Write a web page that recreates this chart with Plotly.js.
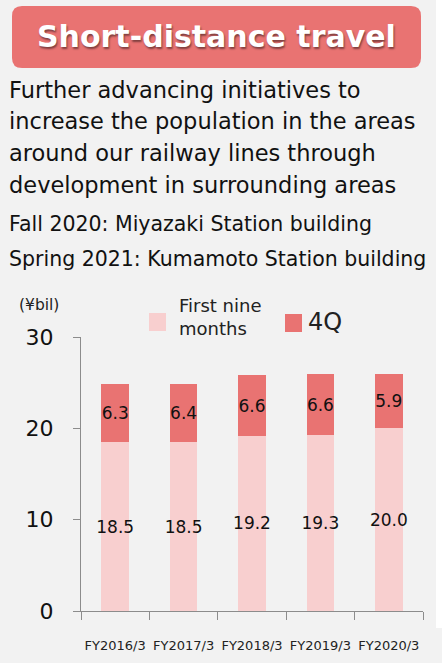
<!DOCTYPE html>
<html>
<head>
<meta charset="utf-8">
<script src="https://cdn.plot.ly/plotly-3.0.1.min.js"></script>
<style>html,body{margin:0;padding:0;background:#f2f2f2;}</style>
</head>
<body>
<div id="myDiv" style="width:442px;height:663px;"></div>
<script>
// data
var years = ['FY2016/3', 'FY2017/3', 'FY2018/3', 'FY2019/3', 'FY2020/3'];
var firstNine = [18.5, 18.5, 19.2, 19.3, 20.0];
var fourthQ = [6.3, 6.4, 6.6, 6.6, 5.9];
var seriesNames = ['First nine<br>months', '4Q'];
var headline = 'Short-distance travel';
var bodyLines = [
  'Further advancing initiatives to',
  'increase the population in the areas',
  'around our railway lines through',
  'development in surrounding areas'
];
var notes = [
  'Fall 2020: Miyazaki Station building',
  'Spring 2021: Kumamoto Station building'
];
var unitLabel = '(¥bil)';

var pink = '#f8cfcf', red = '#e97372', axisGray = '#8c8c8c';
var font = 'DejaVu Sans, Verdana, sans-serif';

// page size and plot margins, pixels -> paper coords
var W = 442, H = 663, L = 81, R = 19, T = 337, B = 52;
function px(X) { return (X - L) / (W - L - R); }
function py(Y) { return (H - B - Y) / (H - T - B); }

function roundRect(x0, y0, x1, y1, r) {
  var p = function (x, y) { return px(x) + ',' + py(y); };
  return 'M' + p(x0 + r, y0) + ' L' + p(x1 - r, y0) + ' Q' + p(x1, y0) + ' ' + p(x1, y0 + r) +
    ' L' + p(x1, y1 - r) + ' Q' + p(x1, y1) + ' ' + p(x1 - r, y1) +
    ' L' + p(x0 + r, y1) + ' Q' + p(x0, y1) + ' ' + p(x0, y1 - r) +
    ' L' + p(x0, y0 + r) + ' Q' + p(x0, y0) + ' ' + p(x0 + r, y0) + ' Z';
}

var trace1 = {
  x: years,
  y: firstNine,
  name: seriesNames[0],
  type: 'bar',
  marker: { color: pink },
  text: firstNine.map(function (v) { return v.toFixed(1); }),
  textposition: 'inside',
  insidetextanchor: 'middle',
  textangle: 0,
  constraintext: 'none',
  textfont: { family: font, size: 17, color: '#111' },
  hoverinfo: 'none'
};

var trace2 = {
  x: years,
  y: fourthQ,
  name: seriesNames[1],
  type: 'bar',
  marker: { color: red },
  text: fourthQ.map(function (v) { return v.toFixed(1); }),
  textposition: 'inside',
  insidetextanchor: 'middle',
  textangle: 0,
  constraintext: 'none',
  textfont: { family: font, size: 17, color: '#111' },
  hoverinfo: 'none'
};

var data = [trace1, trace2];

var ann = [];
ann.push({
  text: '<b>' + headline + '</b>', x: px(216.5), y: py(37), xref: 'paper', yref: 'paper',
  xanchor: 'center', yanchor: 'middle', showarrow: false,
  font: { family: font, size: 30, color: '#ffffff', shadow: '1px 2px 2px rgba(0,0,0,0.45)' }
});
var bodyY = [90, 121.5, 153, 185];
for (var i = 0; i < bodyLines.length; i++) {
  ann.push({
    text: bodyLines[i], x: px(7), y: py(bodyY[i]), xref: 'paper', yref: 'paper',
    xanchor: 'left', yanchor: 'middle', showarrow: false,
    font: { family: font, size: 22.5, color: '#111' }
  });
}
var noteY = [224, 259];
for (var j = 0; j < notes.length; j++) {
  ann.push({
    text: notes[j], x: px(7), y: py(noteY[j]), xref: 'paper', yref: 'paper',
    xanchor: 'left', yanchor: 'middle', showarrow: false,
    font: { family: font, size: 20.5, color: '#111' }
  });
}
ann.push({
  text: unitLabel, x: px(17), y: py(305), xref: 'paper', yref: 'paper',
  xanchor: 'left', yanchor: 'middle', showarrow: false,
  font: { family: font, size: 15.5, color: '#222' }
});
// legend (drawn by hand to get the large swatches)
ann.push({
  text: seriesNames[0], x: px(177), y: py(317), xref: 'paper', yref: 'paper',
  xanchor: 'left', yanchor: 'middle', align: 'left', showarrow: false,
  font: { family: font, size: 18, color: '#222' }
});
ann.push({
  text: seriesNames[1], x: px(306), y: py(322), xref: 'paper', yref: 'paper',
  xanchor: 'left', yanchor: 'middle', showarrow: false,
  font: { family: font, size: 24, color: '#222' }
});

var shapes = [
  { type: 'rect', xref: 'paper', yref: 'paper', x0: px(436), x1: px(442), y0: py(0), y1: py(628),
    fillcolor: '#ffffff', line: { width: 0 }, layer: 'below' },
  { type: 'path', xref: 'paper', yref: 'paper', path: roundRect(12, 6, 421, 68, 10),
    fillcolor: red, line: { width: 0 }, layer: 'below' },
  { type: 'rect', xref: 'paper', yref: 'paper', x0: px(149), x1: px(166), y0: py(313), y1: py(331),
    fillcolor: pink, line: { width: 0 } },
  { type: 'rect', xref: 'paper', yref: 'paper', x0: px(285), x1: px(302), y0: py(314), y1: py(332),
    fillcolor: red, line: { width: 0 } }
];

var layout = {
  width: W,
  height: H,
  margin: { l: L, r: R, t: T, b: B, pad: 0 },
  paper_bgcolor: '#f2f2f2',
  plot_bgcolor: '#f2f2f2',
  barmode: 'stack',
  bargap: 0.595,
  showlegend: false,
  font: { family: font, color: '#111' },
  xaxis: {
    type: 'category',
    showline: true, linecolor: axisGray, linewidth: 1,
    ticks: 'outside', tickson: 'boundaries', ticklen: 8, tickcolor: axisGray,
    tickangle: 0,
    tickfont: { family: font, size: 13, color: '#222' },
    ticklabelstandoff: 22,
    showgrid: false, zeroline: false, fixedrange: true
  },
  yaxis: {
    range: [0, 30], dtick: 10,
    showline: true, linecolor: axisGray, linewidth: 1,
    ticks: 'outside', ticklen: 7, tickcolor: axisGray,
    tickfont: { family: font, size: 22, color: '#111' },
    ticklabelstandoff: 15,
    showgrid: false, zeroline: false, fixedrange: true
  },
  annotations: ann,
  shapes: shapes
};

Plotly.newPlot('myDiv', data, layout, { displayModeBar: false, staticPlot: true });
</script>
</body>
</html>
